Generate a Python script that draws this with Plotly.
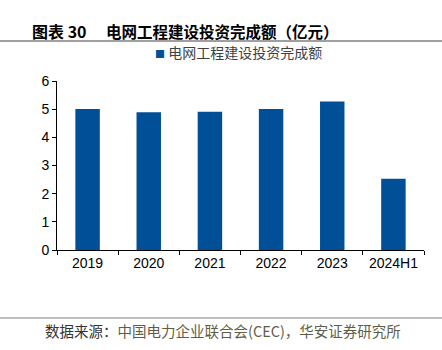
import plotly.graph_objects as go

categories = ["2019", "2020", "2021", "2022", "2023", "2024H1"]
values = [5.01, 4.89, 4.91, 5.01, 5.27, 2.53]
series_name = "电网工程建设投资完成额"
title_label = "<b>图表 30</b>"
title_text = "<b>电网工程建设投资完成额（亿元）</b>"
source_text = "数据来源：<span style='color:#5e5e48'>中国电力企业联合会(CEC)，华安证券研究所</span>"
bar_color = "#004f97"

W, H = 442, 350
ml, mr, mt, mb = 57, 18, 81, 100
pw, ph = W - ml - mr, H - mt - mb

def px_x(x):
    return (x - ml) / pw

def px_y(y):
    return (H - mb - y) / ph

fig = go.Figure()
fig.add_trace(go.Bar(
    x=categories, y=values, name=series_name,
    marker=dict(color=bar_color, line=dict(width=0)),
    width=0.4, showlegend=False,
))

fig.update_layout(
    width=W, height=H,
    margin=dict(l=ml, r=mr, t=mt, b=mb),
    paper_bgcolor="white", plot_bgcolor="white",
    font=dict(family="Liberation Sans, Arial, Noto Sans CJK SC", color="#000000", size=14),
    showlegend=False,
    xaxis=dict(
        type="category", showline=True, linecolor="#000000", linewidth=1,
        ticks="outside", ticklen=4, tickcolor="#000000", tickson="boundaries",
        showgrid=False, tickfont=dict(size=14, color="#000000"),
    ),
    yaxis=dict(
        range=[0, 6], dtick=1, showline=True, linecolor="#000000", linewidth=1,
        ticks="outside", ticklen=4, tickcolor="#000000", showgrid=False,
        zeroline=False, tickfont=dict(size=14, color="#000000"),
    ),
)

# legend key drawn as text
fig.add_annotation(
    text=f"<span style='color:{bar_color};font-size:10px'>■</span> {series_name}",
    xref="paper", yref="paper", x=px_x(154), y=px_y(51.5),
    xanchor="left", yanchor="middle", showarrow=False, borderpad=0,
    font=dict(family="Noto Sans CJK SC", size=14, color="#404040"),
)
fig.add_annotation(
    text=title_label, xref="paper", yref="paper", x=px_x(31), y=px_y(31),
    xanchor="left", yanchor="middle", showarrow=False, borderpad=0,
    font=dict(family="Noto Sans CJK SC", size=16, color="#000000"),
)
fig.add_annotation(
    text=title_text, xref="paper", yref="paper", x=px_x(105), y=px_y(31),
    xanchor="left", yanchor="middle", showarrow=False, borderpad=0,
    font=dict(family="Noto Sans CJK SC", size=15.5, color="#000000"),
)
fig.add_annotation(
    text=source_text, xref="paper", yref="paper", x=px_x(44), y=px_y(330),
    xanchor="left", yanchor="middle", showarrow=False, borderpad=0,
    font=dict(family="Noto Sans CJK SC", size=14.5, color="#333333"),
)
fig.add_shape(type="line", xref="paper", yref="paper",
              x0=px_x(0), x1=px_x(W), y0=px_y(41), y1=px_y(41),
              line=dict(color="#404040", width=1))
fig.add_shape(type="line", xref="paper", yref="paper",
              x0=px_x(0), x1=px_x(W), y0=px_y(318), y1=px_y(318),
              line=dict(color="#808080", width=1))

fig.write_html("out.html")
